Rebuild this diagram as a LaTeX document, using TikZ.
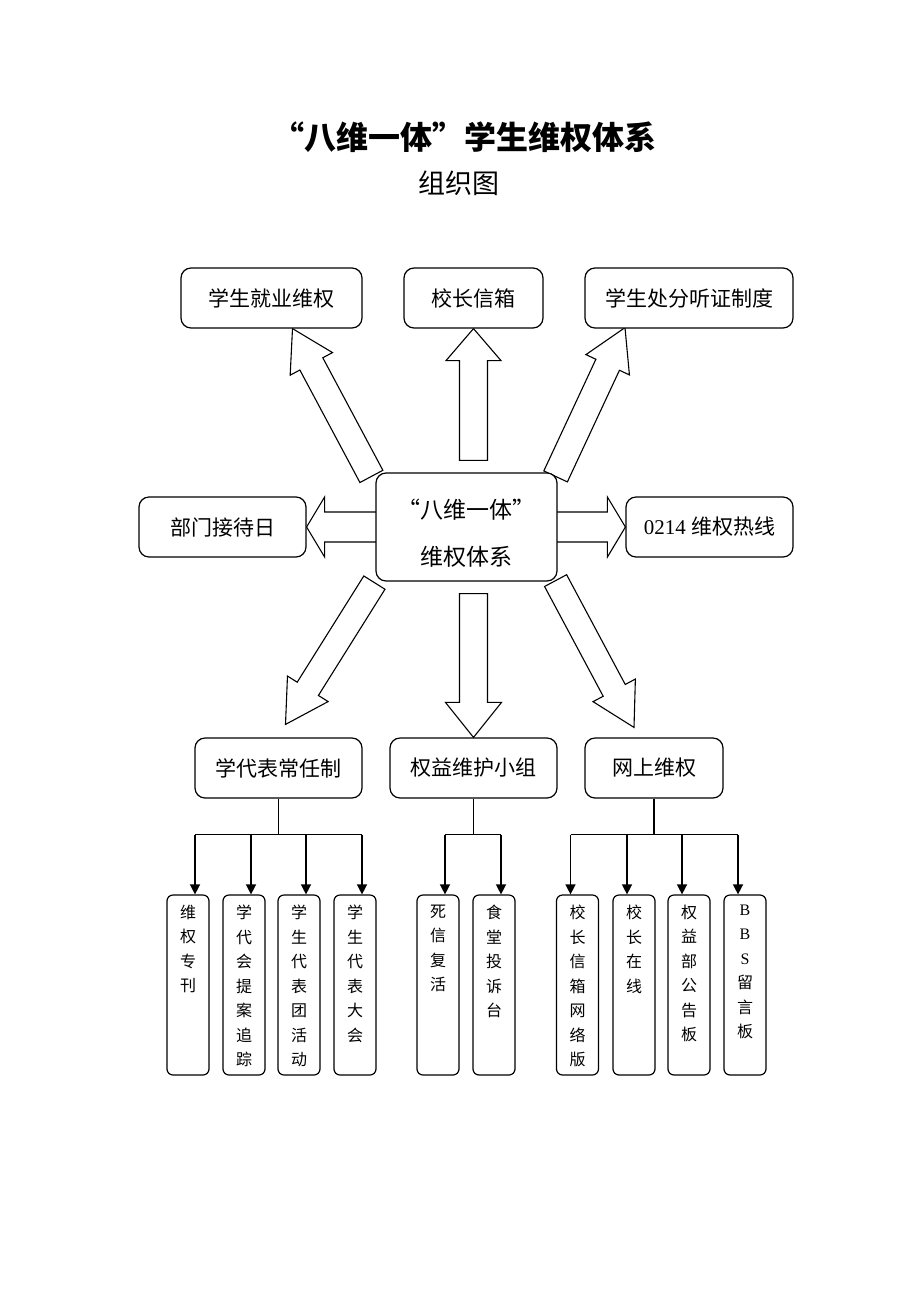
\documentclass[tikz,border=0pt]{standalone}
\usepackage{fontspec}
\setmainfont{Liberation Serif}
\newfontfamily\cjk{Noto Sans CJK SC}
\usetikzlibrary{arrows.meta,calc,backgrounds}

\tikzset{
  bigbox/.style={draw, line width=1.2pt, rounded corners=10pt, fill=white,
    minimum height=60pt, inner sep=0pt, font=\cjk\fontsize{21}{26}\selectfont},
  smallbox/.style={draw, line width=1.2pt, rounded corners=6pt, fill=white,
    minimum width=42pt, minimum height=180pt, inner sep=0pt},
  blockline/.style={draw, line width=1.1pt, fill=white},
  busline/.style={line width=1.4pt},
  feed/.style={busline, -{Triangle[width=10pt,length=10pt]}},
}

% tail, tip, shaft half width, head half width, head length
\newcommand\blockarrow[5]{%
  \coordinate (ba-c) at ($(#2)!#5!(#1)$);
  \draw[blockline] ($(#1)!#3!90:(#2)$) -- ($(ba-c)!#3!90:(#2)$) -- ($(ba-c)!#4!90:(#2)$) -- (#2)
    -- ($(ba-c)!#4!-90:(#2)$) -- ($(ba-c)!#3!-90:(#2)$) -- ($(#1)!#3!-90:(#2)$) -- cycle;
}
\newcommand\stacktext[1]{\parbox[c][160pt][t]{40pt}{\centering\cjk\fontsize{16}{24.5}\selectfont #1}}

\begin{document}
\begin{tikzpicture}[x=1pt,y=-1pt]
  \useasboundingbox (0,0) rectangle (920,1302);

  \node[font=\cjk\bfseries\fontsize{32}{38}\selectfont] (title) at (464,137)
    {\makebox[32pt][r]{“}八维一体\makebox[32pt][l]{”}学生维权体系};
  \node[font=\cjk\fontsize{27}{32}\selectfont] (sub) at (459,183) {组织图};

  \node[bigbox, minimum width=181pt] (A) at (271.5,298) {学生就业维权};
  \node[bigbox, minimum width=139pt] (B) at (473.5,298) {校长信箱};
  \node[bigbox, minimum width=208pt] (C) at (689,298) {学生处分听证制度};
  \node[bigbox, minimum width=167pt] (D) at (222.5,527) {部门接待日};
  \node[bigbox, minimum width=181pt, minimum height=108pt, align=center,
    font=\cjk\fontsize{23}{47}\selectfont] (E) at (466.5,527) {\rule{0pt}{32pt}“八维一体”\\维权体系};
  \node[bigbox, minimum width=167pt] (F) at (709.5,527) {{\rmfamily 0214 }维权热线};
  \node[bigbox, minimum width=167pt] (G) at (278.5,768) {学代表常任制};
  \node[bigbox, minimum width=167pt] (H) at (473.5,768) {权益维护小组};
  \node[bigbox, minimum width=138pt] (I) at (654,768) {网上维权};

  \node[smallbox] (g1) at (188,985) {\stacktext{维\\权\\专\\刊}};
  \node[smallbox] (g2) at (244,985) {\stacktext{学\\代\\会\\提\\案\\追\\踪}};
  \node[smallbox] (g3) at (299,985) {\stacktext{学\\生\\代\\表\\团\\活\\动}};
  \node[smallbox] (g4) at (355,985) {\stacktext{学\\生\\代\\表\\大\\会}};
  \node[smallbox] (h1) at (438,985) {\stacktext{死\\信\\复\\活}};
  \node[smallbox] (h2) at (494,985) {\stacktext{食\\堂\\投\\诉\\台}};
  \node[smallbox] (i1) at (577.5,985) {\stacktext{校\\长\\信\\箱\\网\\络\\版}};
  \node[smallbox] (i2) at (634,985) {\stacktext{校\\长\\在\\线}};
  \node[smallbox] (i3) at (689,985) {\stacktext{权\\益\\部\\公\\告\\板}};
  \node[smallbox] (i4) at (745,985) {\stacktext{\rmfamily B\\B\\S\\\cjk 留\\言\\板}};

  \begin{scope}[on background layer]
    \coordinate (tl-tail) at ($(E.north west)+(-4,4)$);
    \coordinate (tl-tip) at ($(A.south)+(21,0)$);
    \coordinate (up-tail) at ($(E.north)+(7,-12)$);
    \coordinate (tr-tail) at ($(E.north east)+(-2,4)$);
    \coordinate (tr-tip) at ($(C.south)+(-64,-1)$);
    \coordinate (lf-tail) at ($(E.west)+(4,0)$);
    \coordinate (rt-tail) at ($(E.east)+(-4,0)$);
    \coordinate (bl-tail) at ($(E.south west)+(-1,1)$);
    \coordinate (bl-tip) at ($(G.north)+(7,-13)$);
    \coordinate (dn-tail) at ($(E.south)+(7,12)$);
    \coordinate (br-tail) at ($(E.south east)+(-2,-1)$);
    \coordinate (br-tip) at ($(I.north)+(-20,-10)$);
    \blockarrow{tl-tail}{tl-tip}{13pt}{24pt}{40pt}
    \blockarrow{up-tail}{B.south}{14pt}{27.5pt}{32pt}
    \blockarrow{tr-tail}{tr-tip}{13pt}{24pt}{41pt}
    \blockarrow{lf-tail}{D.east}{15pt}{30pt}{18pt}
    \blockarrow{rt-tail}{F.west}{15pt}{30pt}{18pt}
    \blockarrow{bl-tail}{bl-tip}{12.5pt}{24pt}{42pt}
    \blockarrow{dn-tail}{H.north}{14pt}{28pt}{35pt}
    \blockarrow{br-tail}{br-tip}{12.5pt}{24pt}{42pt}
  \end{scope}

  \draw[busline] (G.south) -- ++(0,36) coordinate (gbus);
  \draw[busline] ($(g1.north |- gbus)+(7,0)$) -- ($(g4.north |- gbus)+(7,0)$);
  \foreach \b in {g1,g2,g3,g4}
    \draw[feed] ($(\b.north |- gbus)+(7,0)$) -- ($(\b.north)+(7,0)$);

  \draw[busline] (H.south) -- ++(0,36) coordinate (hbus);
  \draw[busline] ($(h1.north |- hbus)+(7,0)$) -- ($(h2.north |- hbus)+(7,0)$);
  \foreach \b in {h1,h2}
    \draw[feed] ($(\b.north |- hbus)+(7,0)$) -- ($(\b.north)+(7,0)$);

  \draw[busline] (I.south) -- ++(0,36) coordinate (ibus);
  \draw[busline] ($(i1.north |- ibus)+(-7,0)$) -- ($(i4.north |- ibus)+(-7,0)$);
  \foreach \b in {i1,i2,i3,i4}
    \draw[feed] ($(\b.north |- ibus)+(-7,0)$) -- ($(\b.north)+(-7,0)$);
\end{tikzpicture}
\end{document}
